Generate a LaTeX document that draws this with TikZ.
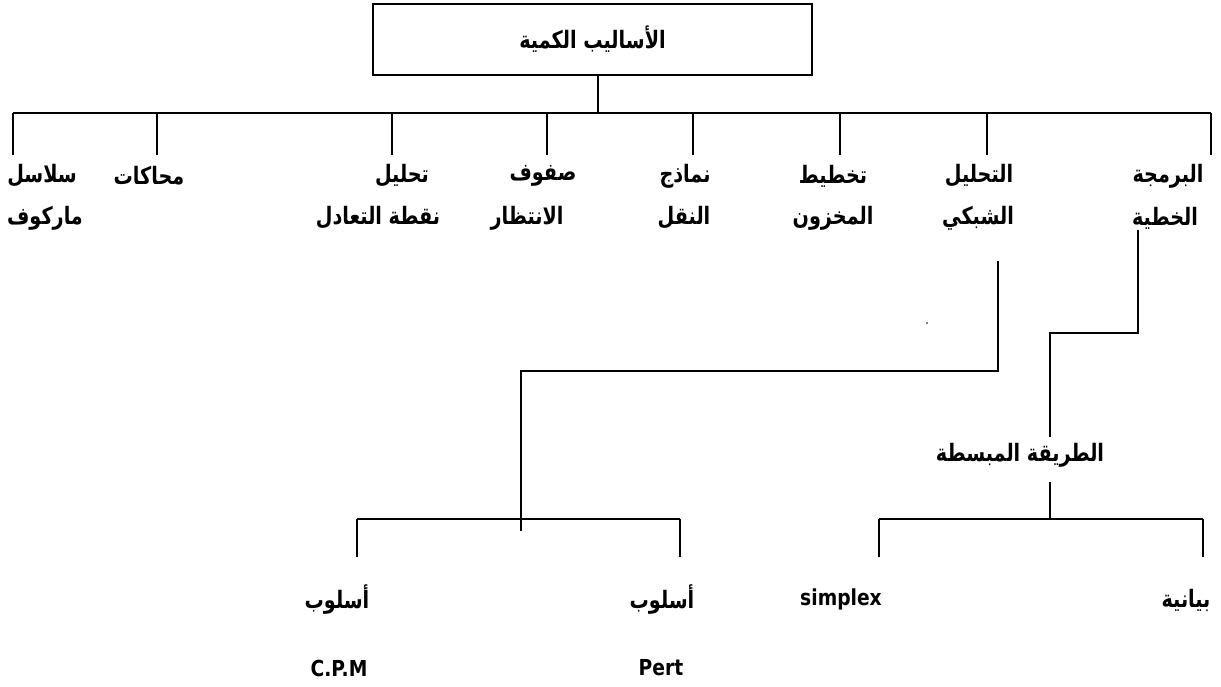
\documentclass[tikz,border=0pt]{standalone}
\usepackage{fontspec}
\newfontfamily\arabicfont[Script=Arabic, FakeStretch=0.8]{DejaVu Sans}
\newfontfamily\latinfont[FakeStretch=0.85]{DejaVu Sans}
\TeXXeTstate=1
\newcommand{\rtl}[1]{\beginR #1\endR}
\begin{document}
\begin{tikzpicture}[x=1pt,y=-1pt,
  ar/.style={font=\arabicfont\bfseries\fontsize{24}{28}\selectfont, inner sep=0pt},
  la/.style={font=\latinfont\bfseries\fontsize{22}{26}\selectfont, inner sep=0pt},
  link/.style={draw=black, line width=1.3pt}]
\useasboundingbox (0,0) rectangle (1221,686);

% root box
\node[draw, line width=1.3pt, minimum width=439pt, minimum height=71pt, ar] (root) at (592.5,39.5) {\rtl{الأساليب الكمية}};

% main bus
\coordinate (busL) at (13,113);
\coordinate (busR) at (1211,113);
\draw[link] ([xshift=5.5pt]root.south) -- ([xshift=5.5pt]root.south |- busL);
\draw[link] (busL) -- (busR);

% drops from the main bus
\foreach \i/\x in {1/13,2/157,3/392,4/547,5/693,6/840,7/987,8/1211}{
  \coordinate (drop\i) at (\x,155);
  \draw[link] (drop\i |- busL) -- (drop\i);
}

% first level labels
\node[ar] (a1) at (42,176)  {\rtl{سلاسل}};
\node[ar] (a2) at (45,218)  {\rtl{ماركوف}};
\node[ar] (b1) at (149,176) {\rtl{محاكات}};
\node[ar] (c1) at (402,176) {\rtl{تحليل}};
\node[ar] (c2) at (378,218) {\rtl{نقطة التعادل}};
\node[ar] (d1) at (543,176) {\rtl{صفوف}};
\node[ar] (d2) at (527,218) {\rtl{الانتظار}};
\node[ar] (e1) at (685,176) {\rtl{نماذج}};
\node[ar] (e2) at (684,218) {\rtl{النقل}};
\node[ar] (f1) at (833,176) {\rtl{تخطيط}};
\node[ar] (f2) at (833,218) {\rtl{المخزون}};
\node[ar] (g1) at (979,176) {\rtl{التحليل}};
\node[ar] (g2) at (978,218) {\rtl{الشبكي}};
\node[ar] (h1) at (1168,176) {\rtl{البرمجة}};
\node[ar] (h2) at (1165,218) {\rtl{الخطية}};

% network analysis branch
\coordinate (netA) at (998,261);
\coordinate (netB) at (521,371);
\coordinate (netC) at (521,531);
\draw[link] (netA) |- (netB) -- (netC);
\coordinate (blL) at (357,519);
\coordinate (blR) at (680,519);
\draw[link] (blL) -- (blR);
\coordinate (cpmTop) at (357,557);
\coordinate (pertTop) at (680,557);
\draw[link] (blL) -- (cpmTop);
\draw[link] (blR) -- (pertTop);
\node[ar] (m1) at (337,600) {\rtl{أسلوب}};
\node[la] (m2) at (339,668) {C.P.M};
\node[ar] (p1) at (662,600) {\rtl{أسلوب}};
\node[la] (p2) at (661,668) {Pert};

% linear programming branch
\coordinate (lpA) at (1138,230);
\coordinate (lpB) at (1050,333);
\coordinate (lpC) at (1050,437);
\draw[link] (lpA) |- (lpB) -- (lpC);
\node[ar] (simp) at (1020,455) {\rtl{الطريقة المبسطة}};
\coordinate (lpD) at (1050,482);
\coordinate (brL) at (879,519);
\coordinate (brR) at (1203,519);
\draw[link] (lpD) -- (lpD |- brL);
\draw[link] (brL) -- (brR);
\coordinate (sxTop) at (879,557);
\coordinate (grTop) at (1203,557);
\draw[link] (brL) -- (sxTop);
\draw[link] (brR) -- (grTop);
\node[la] (sx) at (841,599) {simplex};
\node[ar] (gr) at (1186,600) {\rtl{بيانية}};

% stray dot
\fill (927,323) circle (0.9pt);
\end{tikzpicture}
\end{document}
